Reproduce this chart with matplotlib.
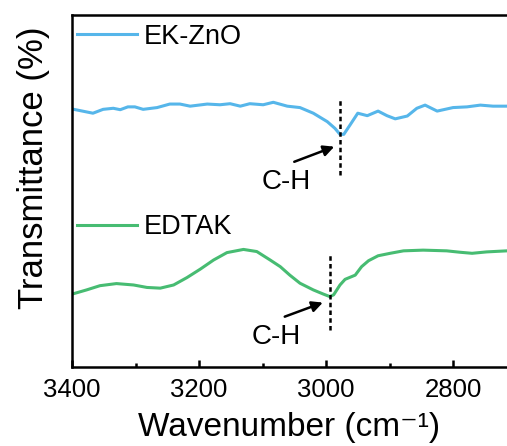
import matplotlib
matplotlib.use("Agg")
import matplotlib.pyplot as plt
from matplotlib.ticker import MultipleLocator

plt.rcParams['font.family'] = ['Liberation Sans', 'DejaVu Sans']

# EK-ZnO spectrum (wavenumber cm^-1, transmittance a.u.)
ekzno_wn = [3400, 3367, 3351, 3335, 3324, 3312, 3301, 3288, 3266, 3246, 3230, 3214,
            3187, 3167, 3151, 3135, 3120, 3099, 3083, 3061, 3041, 3020, 2998, 2986,
            2978, 2972, 2962, 2950, 2935, 2918, 2904, 2891, 2872, 2857, 2844, 2825,
            2800, 2778, 2757, 2737, 2715]
ekzno_t = [73.3, 72.1, 73.2, 73.5, 73.1, 73.9, 73.9, 73.2, 73.7, 74.7, 74.7, 74.1,
           74.7, 74.5, 74.8, 74.1, 74.8, 74.5, 75.2, 74.1, 73.7, 72.1, 69.7, 67.8,
           66.1, 66.1, 68.8, 72.1, 71.4, 72.7, 71.4, 70.5, 71.3, 73.5, 74.4, 72.7,
           73.7, 73.9, 74.4, 74.1, 74.1]

# EDTAK spectrum
edtak_wn = [3400, 3377, 3356, 3330, 3303, 3282, 3261, 3240, 3219, 3198, 3177, 3156,
            3130, 3109, 3088, 3072, 3057, 3041, 3020, 3004, 2994, 2988, 2978, 2970,
            2954, 2944, 2933, 2918, 2899, 2878, 2847, 2810, 2789, 2770, 2747, 2715]
edtak_t = [20.7, 21.9, 23.1, 23.7, 23.3, 22.6, 22.4, 23.3, 25.4, 27.8, 30.4, 32.5,
           33.4, 32.8, 30.4, 28.5, 26.1, 23.8, 21.9, 20.7, 20.0, 20.5, 23.3, 24.9,
           26.1, 28.5, 30.2, 31.6, 32.3, 33.0, 33.2, 33.0, 32.6, 32.3, 32.7, 33.0]

series_labels = ["EK-ZnO", "EDTAK"]
peak_label = "C-H"
ekzno_peak = 2978
edtak_peak = 2993

xticks = [3400, 3200, 3000, 2800]

fig = plt.figure(figsize=(5.07, 4.46), dpi=100)
ax = fig.add_axes([72 / 507, 79 / 446, 435 / 507, 352 / 446])

c_blue = '#56B6EA'
c_green = '#47BC72'

l1, = ax.plot(ekzno_wn, ekzno_t, color=c_blue, lw=2.2, label=series_labels[0])
l2, = ax.plot(edtak_wn, edtak_t, color=c_green, lw=2.2, label=series_labels[1])

ax.set_xlim(3400, 2715)
ax.set_ylim(0, 100)

# dashed markers
ax.plot([ekzno_peak, ekzno_peak], [54.5, 76.4], color='k', lw=1.8, ls=(0, (1.8, 1.3)))
ax.plot([edtak_peak, edtak_peak], [10.5, 32.3], color='k', lw=1.8, ls=(0, (1.8, 1.3)))

# arrows and labels
ap = dict(arrowstyle='-|>', lw=1.8, color='k', mutation_scale=16, shrinkA=0, shrinkB=0)
ax.annotate('', xy=(2987, 62.6), xytext=(3050, 58.3), arrowprops=ap)
ax.annotate('', xy=(3005, 18.3), xytext=(3065, 14.3), arrowprops=ap)
ax.text(3062, 52.6, peak_label, fontsize=20, ha='center', va='center')
ax.text(3078, 8.5, peak_label, fontsize=20, ha='center', va='center')

leg1 = ax.legend(handles=[l1], loc='center left', bbox_to_anchor=(0.0115, 0.938),
                 frameon=False, fontsize=19.5, borderpad=0, borderaxespad=0,
                 handlelength=2.2, handletextpad=0.26)
ax.add_artist(leg1)
ax.legend(handles=[l2], loc='center left', bbox_to_anchor=(0.0115, 0.397),
          frameon=False, fontsize=19.5, borderpad=0, borderaxespad=0,
          handlelength=2.2, handletextpad=0.26)

for s in ['left', 'bottom', 'top']:
    ax.spines[s].set_linewidth(1.8)
ax.spines['right'].set_visible(False)

ax.set_xticks(xticks)
ax.xaxis.set_minor_locator(MultipleLocator(100))
ax.tick_params(axis='x', which='major', direction='in', length=5, width=1.8,
               labelsize=18.5, pad=8, top=False)
ax.tick_params(axis='x', which='minor', direction='in', length=3, width=1.8, top=False)
ax.set_yticks([])

ax.set_xlabel('Wavenumber (cm\u207b\u00b9)', fontsize=24, labelpad=7)
ax.set_ylabel('Transmittance (%)', fontsize=25)
ax.yaxis.set_label_coords(-0.05, 0.565)

fig.savefig('out.png', dpi=100)
